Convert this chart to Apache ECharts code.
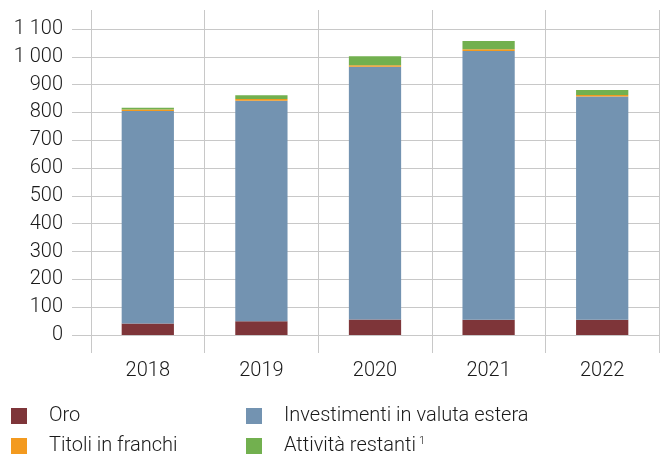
<!DOCTYPE html>
<html>
<head>
<meta charset="utf-8">
<script src="https://cdn.jsdelivr.net/npm/echarts@6/dist/echarts.min.js"></script>
<style>
  html, body { margin: 0; padding: 0; background: #fff; }
  #chart { width: 668px; height: 455px; }
</style>
</head>
<body>
<div id="chart"></div>
<script>
var years = ['2018', '2019', '2020', '2021', '2022'];
var oro = [41, 49, 56, 55, 55];
var valuta = [764, 793, 908, 966, 802];
var titoli = [6, 6, 6, 6, 6];
var restanti = [6, 14, 32, 30, 18];
var yTicks = [0, 100, 200, 300, 400, 500, 600, 700, 800, 900, 1000, 1100];

var font = 'Roboto';
var gridColor = '#c8c8c8';
var txtColor = '#1a1a1a';

function fmt(v) {
	// thousands separated by a space
	return String(v).replace(/\B(?=(\d{3})+(?!\d))/g, ' ');
}

// one legend block per entry, so the two columns line up
function legendAt(name, left, top) {
	return {
		left: left,
		top: top,
		padding: 0,
		itemWidth: 16,
		itemHeight: 16,
		icon: 'rect',
		data: [name],
		formatter: function (n) {
			return n === 'Attività restanti' ? n + '{sup|1}' : n;
		},
		textStyle: {
			fontSize: 20, color: txtColor, fontFamily: font, fontWeight: 300, padding: [0, 0, 0, 17],
			rich: { sup: { fontSize: 11, verticalAlign: 'top', padding: [0, 0, 9, 3], color: txtColor, fontFamily: font, fontWeight: 300 } }
		}
	};
}

var dom = document.getElementById('chart');
var myChart = echarts.init(dom);
var option = {
	animation: false,
	textStyle: { fontFamily: font },
	grid: [
		{ left: 91, right: 9, top: 29, bottom: 120 },
		{ left: 91, right: 9, top: 10, bottom: 102 }
	],
	xAxis: [
		{
			type: 'category',
			gridIndex: 0,
			data: years,
			axisLine: { show: false },
			axisTick: { show: false },
			axisLabel: { show: false },
			splitLine: { show: false }
		},
		{
			type: 'category',
			gridIndex: 1,
			data: years,
			axisLine: { show: false },
			axisTick: { show: false },
			axisLabel: {
				margin: 8,
				fontSize: 20,
				color: txtColor,
				fontFamily: font,
				fontWeight: 300
			},
			splitLine: { show: true, interval: 0, lineStyle: { color: gridColor, width: 1 } }
		}
	],
	yAxis: [
		{
			type: 'value',
			gridIndex: 0,
			min: yTicks[0],
			max: yTicks[yTicks.length - 1],
			interval: 100,
			axisLine: { show: false },
			axisTick: { show: true, length: 19, lineStyle: { color: gridColor } },
			axisLabel: {
				margin: 28,
				fontSize: 20,
				color: txtColor,
				fontFamily: font,
				fontWeight: 300,
				formatter: fmt
			},
			splitLine: { show: true, lineStyle: { color: gridColor, width: 1 } }
		},
		{
			type: 'value',
			gridIndex: 1,
			show: false,
			min: 0,
			max: 100
		}
	],
	legend: [
		legendAt('Oro', 11, 406),
		legendAt('Titoli in franchi', 11, 436),
		legendAt('Investimenti in valuta estera', 246, 406),
		legendAt('Attività restanti', 246, 436)
	],
	series: [
		{ name: 'Oro', type: 'bar', stack: 'tot', barWidth: '46%', data: oro, itemStyle: { color: '#7e3539' } },
		{ name: 'Investimenti in valuta estera', type: 'bar', stack: 'tot', data: valuta, itemStyle: { color: '#7393b1' } },
		{ name: 'Titoli in franchi', type: 'bar', stack: 'tot', data: titoli, itemStyle: { color: '#f39a1f' } },
		{ name: 'Attività restanti', type: 'bar', stack: 'tot', data: restanti, itemStyle: { color: '#72b04f' } }
	]
};
myChart.setOption(option, true);
</script>
</body>
</html>
